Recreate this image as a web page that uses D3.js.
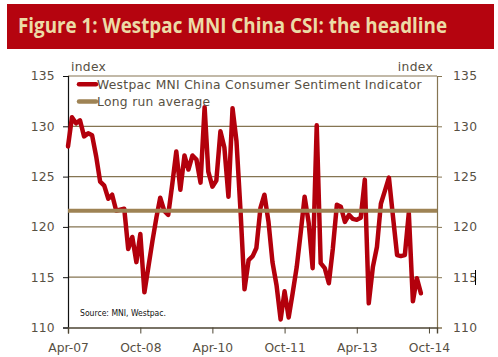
<!DOCTYPE html>
<html>
<head>
<meta charset="utf-8">
<script src="https://cdn.jsdelivr.net/npm/d3@7/dist/d3.min.js"></script>
<style>
  html, body { margin: 0; padding: 0; background: #ffffff; }
  svg { display: block; }
</style>
</head>
<body>
<svg id="chart" width="498" height="357"></svg>
<script>
// ---- data ----
const startMonth = "2007-04";
const csiValues = [
  128.0, 130.9, 130.3, 130.6, 129.0, 129.3, 129.1, 127.0, 124.5, 124.1,
  122.8, 123.2, 121.6, 121.7, 121.8, 117.8, 119.0, 116.5, 119.3, 113.5,
  116.0, 118.6, 121.0, 122.9, 121.6, 121.2, 124.3, 127.5, 123.7, 127.1,
  125.7, 127.1, 126.7, 124.4, 131.9, 125.5, 124.0, 124.6, 129.5, 127.9,
  123.0, 131.8, 128.5, 121.5, 113.8, 116.7, 117.1, 117.9, 121.9, 123.2,
  120.5, 116.5, 114.2, 110.8, 113.6, 111.0, 113.4, 116.0, 119.5, 123.0,
  120.4, 115.9, 130.1, 116.4, 115.9, 114.4, 117.8, 122.2, 122.0, 120.5,
  121.2, 120.8, 120.7, 120.9, 124.7, 112.4, 116.0, 118.0, 122.3, 123.6,
  124.9, 121.0, 117.2, 117.1, 117.2, 121.4, 112.6, 114.9, 113.4
];
const longRunAverage = 121.6;
const xTickDates = ["2007-04", "2008-10", "2010-04", "2011-10", "2013-04", "2014-10"];
const xTickLabels = ["Apr-07", "Oct-08", "Apr-10", "Oct-11", "Apr-13", "Oct-14"];
const yTicks = [110, 115, 120, 125, 130, 135];
const seriesNames = ["Westpac MNI China Consumer Sentiment Indicator", "Long run average"];
const titleText = "Figure 1: Westpac MNI China CSI: the headline";
const sourceText = "Source: MNI, Westpac.";
const axisTitle = "index";

// ---- setup ----
const parseM = d3.timeParse("%Y-%m");
const start = parseM(startMonth);
const dates = csiValues.map((v, i) => d3.timeMonth.offset(start, i));

const svg = d3.select("#chart");
const L = 68, R = 437, T = 76, B = 327.5;

const x = d3.scaleTime()
  .domain([parseM("2007-04"), parseM("2014-12")])
  .range([L, R]);
const y = d3.scaleLinear().domain([110, 135]).range([B, T]);

const RED = "#b3000c";
const TAN = "#9e8354";
const GRID = "#857552";
const TXT = "#575043";

// title bar
svg.append("rect").attr("x", 7).attr("y", 4).attr("width", 487).attr("height", 45)
  .attr("fill", "#b5040f");
svg.append("text").attr("x", 18).attr("y", 33)
  .attr("font-family", "'Open Sans', 'Noto Sans', sans-serif")
  .attr("font-weight", "bold").attr("font-size", 21)
  .attr("fill", "#ecdba6")
  .attr("textLength", 429).attr("lengthAdjust", "spacingAndGlyphs")
  .text(titleText);

// gridlines (including top border)
svg.append("g").selectAll("line").data(yTicks.filter(t => t > 110)).join("line")
  .attr("x1", L).attr("x2", R)
  .attr("y1", d => y(d)).attr("y2", d => y(d))
  .attr("stroke", GRID).attr("stroke-width", 1.2);

// left axis
const yLeft = d3.axisLeft(y).tickValues(yTicks).tickSize(5).tickPadding(8).tickFormat(d3.format("d"));
const gl = svg.append("g").attr("transform", `translate(${L},0)`).call(yLeft);
gl.select(".domain").attr("stroke", "#111").attr("stroke-width", 1.2);
gl.selectAll(".tick line").attr("stroke", "#111");
gl.selectAll("text").attr("font-family", "'DejaVu Sans', sans-serif").attr("font-size", 12.3)
  .attr("letter-spacing", 0.3).attr("fill", TXT);

// right axis
const yRight = d3.axisRight(y).tickValues(yTicks).tickSize(5).tickPadding(11).tickFormat(d3.format("d"));
const gr = svg.append("g").attr("transform", `translate(${R},0)`).call(yRight);
gr.select(".domain").attr("stroke", GRID).attr("stroke-width", 1.2);
gr.selectAll(".tick line").attr("stroke", GRID);
gr.selectAll("text").attr("font-family", "'DejaVu Sans', sans-serif").attr("font-size", 12.3)
  .attr("letter-spacing", 0.3).attr("fill", TXT);

// bottom axis
const xAxis = d3.axisBottom(x).tickValues(xTickDates.map(parseM)).tickSize(6).tickPadding(10)
  .tickFormat((d, i) => xTickLabels[i]);
const gb = svg.append("g").attr("transform", `translate(0,${B})`).call(xAxis);
gb.select(".domain").attr("stroke", "#4e4634").attr("stroke-width", 1.4);
gb.selectAll(".tick line").attr("stroke", "#4e4634");
gb.selectAll("text").attr("font-family", "'DejaVu Sans', sans-serif").attr("font-size", 12.3).attr("fill", TXT);

// axis titles
svg.append("text").attr("x", 71).attr("y", 71)
  .attr("font-family", "'DejaVu Sans', sans-serif").attr("font-size", 12.3).attr("fill", TXT)
  .attr("letter-spacing", 0.3)
  .text(axisTitle);
svg.append("text").attr("x", 433).attr("y", 71).attr("text-anchor", "end")
  .attr("font-family", "'DejaVu Sans', sans-serif").attr("font-size", 12.3).attr("fill", TXT)
  .attr("letter-spacing", 0.3)
  .text(axisTitle);

// CSI line
const line = d3.line().x((d, i) => x(dates[i])).y(d => y(d));
svg.append("path").datum(csiValues)
  .attr("d", line)
  .attr("fill", "none").attr("stroke", RED).attr("stroke-width", 4.5)
  .attr("stroke-linejoin", "round").attr("stroke-linecap", "round");

// long run average
svg.append("line")
  .attr("x1", L).attr("x2", R)
  .attr("y1", y(longRunAverage)).attr("y2", y(longRunAverage))
  .attr("stroke", TAN).attr("stroke-width", 4);

// legend
const legend = svg.append("g");
const legendColors = [RED, TAN];
const legendY = [84.3, 101.5];
seriesNames.forEach((name, i) => {
  legend.append("line").attr("x1", 79).attr("x2", 96)
    .attr("y1", legendY[i]).attr("y2", legendY[i])
    .attr("stroke", legendColors[i]).attr("stroke-width", 4.5).attr("stroke-linecap", "round");
  legend.append("text").attr("x", 97).attr("y", legendY[i] + 4.6)
    .attr("font-family", "'DejaVu Sans', sans-serif").attr("font-size", 12.3).attr("fill", TXT)
    .attr("letter-spacing", 0.3)
    .text(name);
});

// source
svg.append("text").attr("x", 80).attr("y", 316)
  .attr("font-family", "'DejaVu Sans Condensed', 'DejaVu Sans', sans-serif").attr("font-size", 9)
  .attr("fill", "#111")
  .attr("textLength", 86).attr("lengthAdjust", "spacingAndGlyphs")
  .text(sourceText);

// text cursor mark visible beside the right-axis label
svg.append("line").attr("x1", 475.5).attr("x2", 475.5).attr("y1", 270).attr("y2", 285)
  .attr("stroke", "#000").attr("stroke-width", 1);
</script>
</body>
</html>
